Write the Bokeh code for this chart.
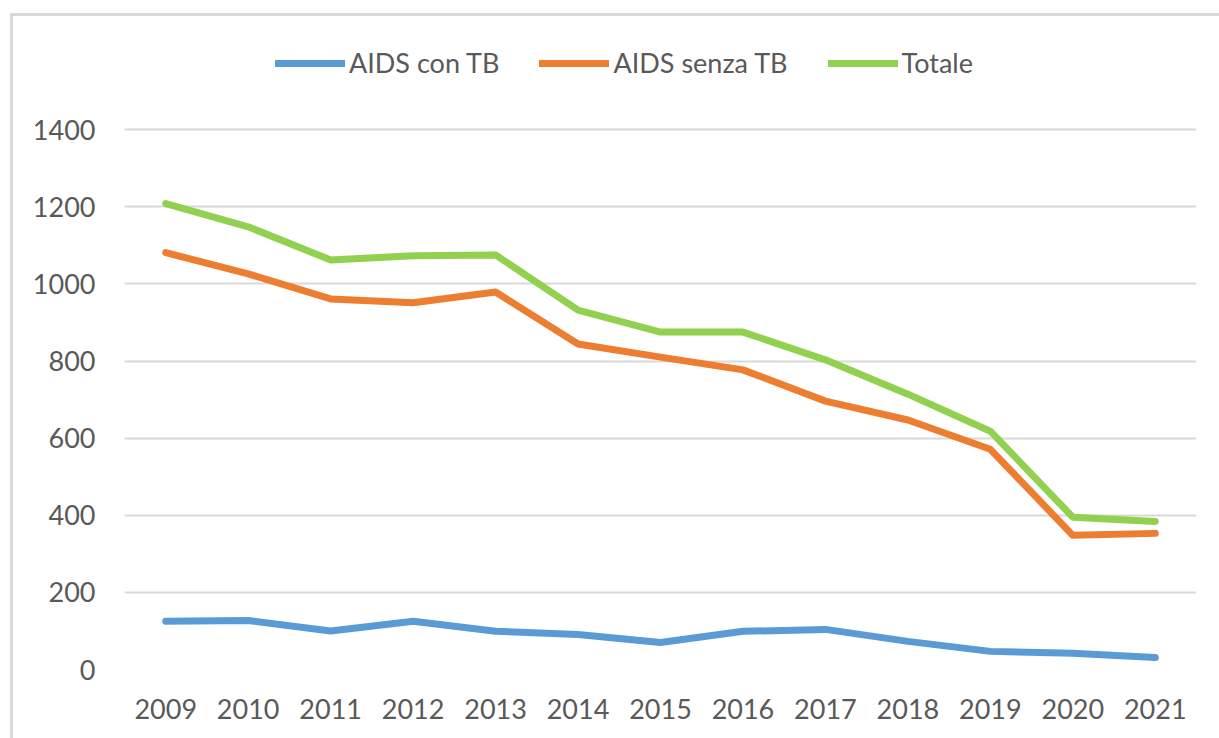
from bokeh.plotting import figure
from bokeh.models import FactorRange, Range1d, Legend, LegendItem, ColumnDataSource, FixedTicker
from bokeh.embed import file_html
from bokeh.resources import INLINE

years = ["2009", "2010", "2011", "2012", "2013", "2014", "2015", "2016", "2017", "2018", "2019", "2020", "2021"]
aids_con_tb = [125, 127, 100, 125, 99, 91, 70, 99, 104, 73, 47, 42, 31]
aids_senza_tb = [1081, 1026, 961, 951, 979, 844, 810, 777, 696, 647, 571, 348, 353]
totale = [1208, 1148, 1062, 1073, 1075, 932, 875, 875, 803, 714, 618, 395, 384]
y_ticks = [0, 200, 400, 600, 800, 1000, 1200, 1400]

series_names = ["AIDS con TB", "AIDS senza TB", "Totale"]
colors = ["#5B9BD5", "#ED7D31", "#92D050"]
FONT = "Lato"
TXT = "#595959"
BORDER = "#D9D9D9"

p = figure(x_range=FactorRange(*years), y_range=Range1d(0, 1683),
           width=1219, height=738, output_backend="svg", toolbar_location=None,
           min_border_left=124, min_border_right=23, min_border_top=20, min_border_bottom=69)
p.background_fill_color = None
p.border_fill_color = None
p.outline_line_color = None
p.styles = {
    "background-color": "white",
    "background-image": f"linear-gradient({BORDER}, {BORDER}), linear-gradient({BORDER}, {BORDER})",
    "background-size": "3px 100%, 100% 3px",
    "background-position": "10px 13px, 10px 13px",
    "background-repeat": "no-repeat",
}

src = ColumnDataSource(dict(x=years, a=aids_con_tb, b=aids_senza_tb, c=totale))
renderers = []
for col, color in zip(["a", "b", "c"], colors):
    r = p.line("x", col, source=src, line_color=color, line_width=7,
               line_cap="round", line_join="round")
    renderers.append(r)

p.xgrid.grid_line_color = None
p.ygrid.grid_line_color = BORDER
p.ygrid.grid_line_width = 2
p.yaxis.ticker = FixedTicker(ticks=y_ticks)
for ax in (p.xaxis[0], p.yaxis[0]):
    ax.axis_line_color = None
    ax.major_tick_line_color = None
    ax.minor_tick_line_color = None
    ax.major_label_text_font = FONT
    ax.major_label_text_font_size = "27px"
    ax.major_label_text_color = TXT
p.yaxis.major_label_standoff = 23
p.xaxis.major_label_standoff = 23

legend = Legend(items=[LegendItem(label=n, renderers=[r]) for n, r in zip(series_names, renderers)],
                orientation="horizontal", location=(151, 590),
                glyph_width=70, glyph_height=30, label_standoff=4, spacing=40,
                padding=0, margin=0, border_line_color=None, background_fill_alpha=0,
                label_text_font=FONT, label_text_font_size="27px", label_text_color=TXT)
p.add_layout(legend, "center")

open("out.html", "w").write(file_html(p, INLINE))
